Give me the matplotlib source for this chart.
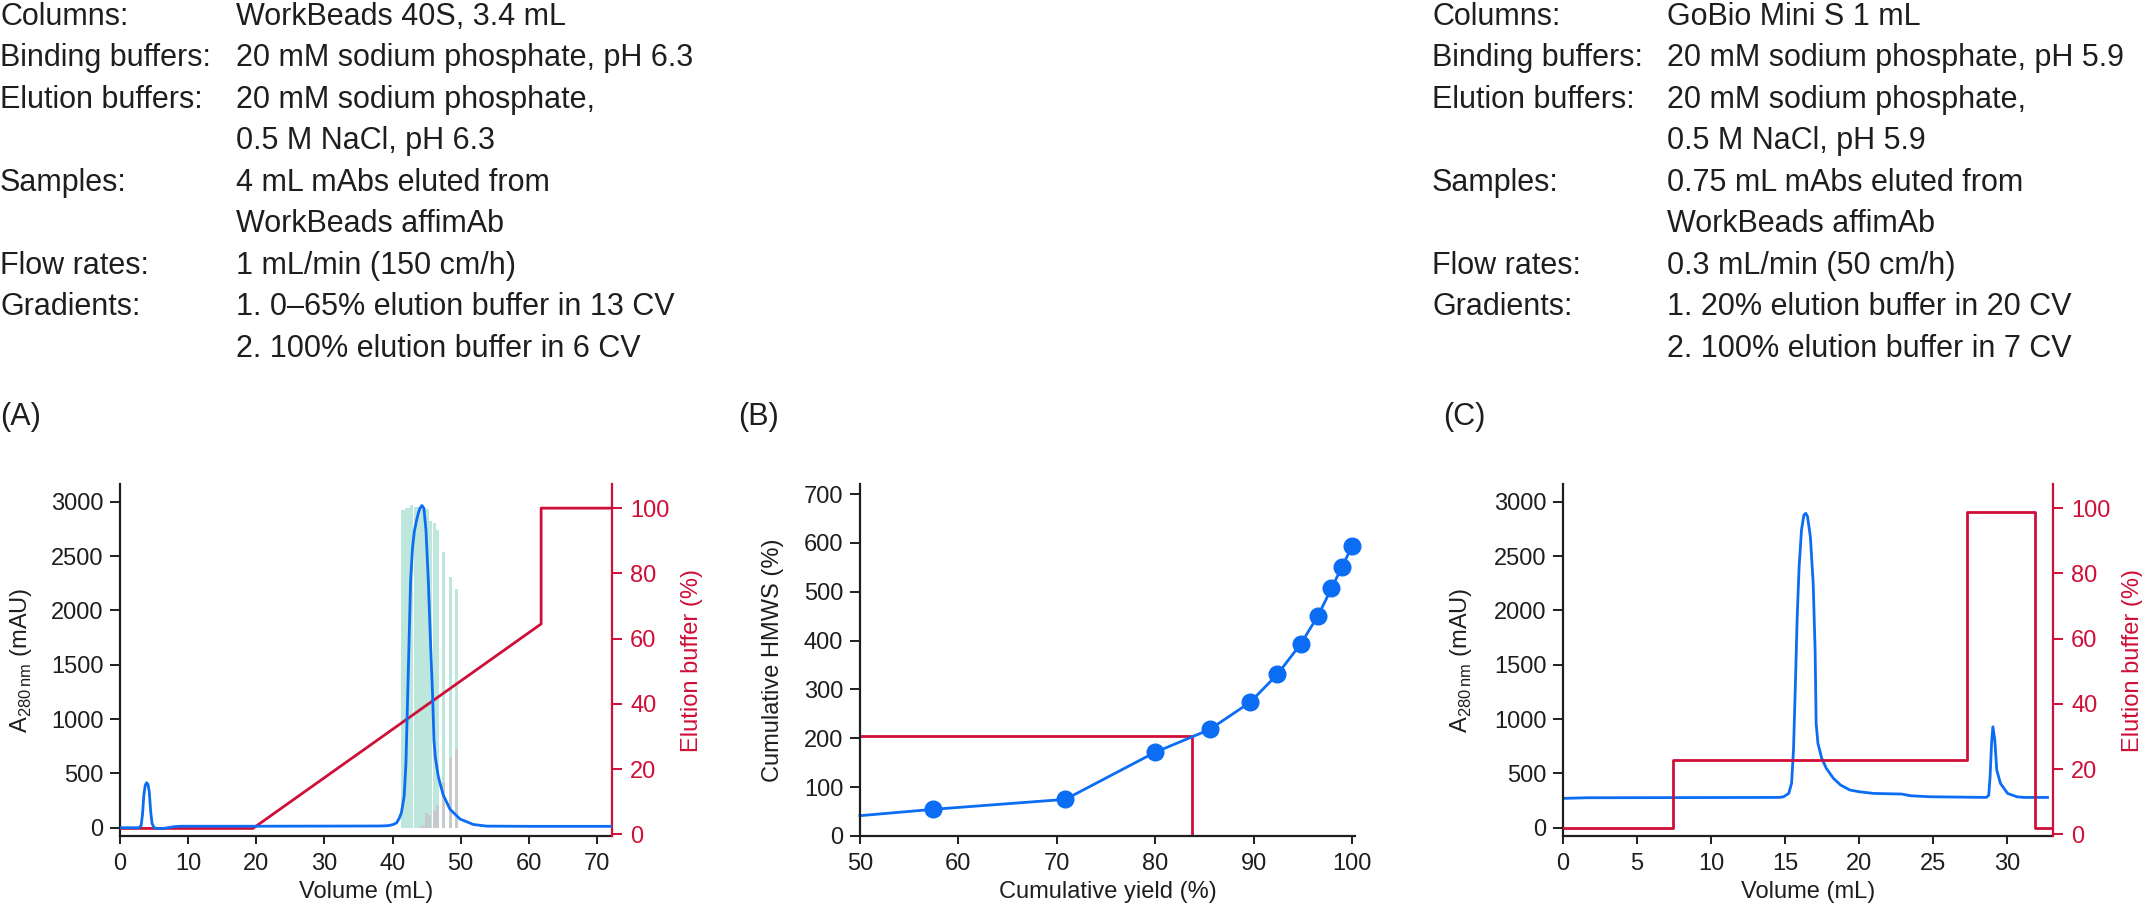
import matplotlib
matplotlib.use('Agg')
import matplotlib.pyplot as plt

plt.rcParams['font.family'] = ['Liberation Sans', 'DejaVu Sans']
plt.rcParams['mathtext.fontset'] = 'custom'
plt.rcParams['mathtext.rm'] = 'Liberation Sans'

W, H = 2142, 906
BLUE = '#0b6cf4'
RED = '#cf0f38'
GREEN = '#bde6dc'
GREY = '#c6cacd'
INK = '#1e1e1e'

# ---- method text -------------------------------------------------------
row_labels = ['Columns:', 'Binding buffers:', 'Elution buffers:', '', 'Samples:', '',
              'Flow rates:', 'Gradients:', '']
values_a = ['WorkBeads 40S, 3.4 mL', '20 mM sodium phosphate, pH 6.3',
            '20 mM sodium phosphate,', '0.5 M NaCl, pH 6.3', '4 mL mAbs eluted from',
            'WorkBeads affimAb', '1 mL/min (150 cm/h)', '1. 0–65% elution buffer in 13 CV',
            '2. 100% elution buffer in 6 CV']
values_c = ['GoBio Mini S 1 mL', '20 mM sodium phosphate, pH 5.9',
            '20 mM sodium phosphate,', '0.5 M NaCl, pH 5.9', '0.75 mL mAbs eluted from',
            'WorkBeads affimAb', '0.3 mL/min (50 cm/h)', '1. 20% elution buffer in 20 CV',
            '2. 100% elution buffer in 7 CV']

# ---- (A) WorkBeads 40S chromatogram -------------------------------------
vol_a = [0, 2.8, 3.1, 3.3, 3.5, 3.7, 3.9, 4.1, 4.3, 4.5, 4.7, 5.0, 5.5, 6.5, 8.0, 9.0,
         20, 38, 39.0, 39.6, 40.1, 40.6, 41.0, 41.3, 41.7, 41.96, 42.15, 42.4, 42.65,
         42.94, 43.2, 43.53, 43.8, 44.01, 44.31, 44.6, 44.9, 45.24, 45.59, 45.88, 46.07,
         46.27, 46.71, 47.44, 48.43, 49.9, 51.85, 53.8, 60, 72.2]
abs_a = [0, 0, 20, 120, 300, 390, 414, 400, 330, 150, 40, 0, -8, -5, 10, 14,
         14, 16, 18, 22, 30, 45, 90, 140, 290, 592, 1053, 1666, 2279,
         2586, 2730, 2832, 2900, 2939, 2965, 2939, 2740, 2279, 1666, 1205, 807,
         650, 470, 300, 170, 80, 30, 15, 13, 13]
grad_vol_a = [0, 19.5, 61.8, 61.8, 72.2]
grad_pct_a = [1.8, 1.8, 64.5, 100, 100]

# collected fractions (total protein) and HMWS content per fraction
frac_start = [41.17, 41.76, 42.54, 43.13, 44.26, 45.34, 45.93, 46.37, 47.25, 48.28, 49.16]
frac_end = [41.76, 42.54, 43.03, 44.26, 45.34, 45.83, 46.37, 46.81, 47.69, 48.67, 49.55]
frac_total = [2923, 2945, 2970, 2953, 2932, 2822, 2800, 2739, 2539, 2309, 2201]
hmws_start = [44.0, 44.75, 45.2, 45.93, 46.37, 47.25, 48.28, 49.16]
hmws_end = [44.75, 45.2, 45.63, 46.37, 46.81, 47.69, 48.67, 49.55]
hmws_frac = [20, 132, 115, 163, 209, 420, 644, 724]

# ---- (B) cumulative HMWS vs yield -------------------------------------
cum_yield = [50, 57.44, 70.87, 79.95, 85.53, 89.66, 92.42, 94.78, 96.55, 97.91, 98.96, 100.0]
cum_hmws = [41.6, 54.6, 75, 171, 218, 274, 331, 393, 451, 507, 550, 593]
yield_cut = 83.7
hmws_cut = 204.7

# ---- (C) GoBio Mini S chromatogram ------------------------------------
vol_c = [0, 1.6, 14.6, 14.9, 15.25, 15.44, 15.57, 15.7, 15.82, 15.95, 16.11, 16.27, 16.4,
         16.52, 16.71, 16.9, 17.03, 17.1, 17.22, 17.48, 17.79, 18.27, 18.75, 19.38, 20.02,
         20.97, 22.88, 23.5, 24.79, 28.6, 28.76, 28.85, 28.95, 29.04, 29.17, 29.3, 29.55,
         30.03, 30.66, 31.14, 32.73]
abs_c = [270, 276, 279, 285, 316, 408, 715, 1328, 1942, 2402, 2739, 2877, 2893,
         2862, 2678, 2248, 1635, 960, 776, 638, 546, 454, 393, 347, 331,
         316, 310, 294, 285, 279, 300, 469, 776, 929, 807, 531, 408,
         316, 285, 279, 279]
grad_vol_c = [0, 7.45, 7.45, 27.32, 27.32, 31.87, 31.87, 33.1]
grad_pct_c = [2, 2, 22.9, 22.9, 98.8, 98.8, 2, 2]


def box(left, right, top, bottom):
    return [left / W, 1 - bottom / H, (right - left) / W, (bottom - top) / H]


def style(ax):
    for s in ['top', 'right']:
        ax.spines[s].set_visible(False)
    for s in ['left', 'bottom']:
        ax.spines[s].set_linewidth(1.6)
        ax.spines[s].set_color(INK)
    ax.tick_params(axis='y', length=7, width=1.4, pad=5, labelsize=17, colors=INK)
    ax.tick_params(axis='x', length=5.5, width=1.4, pad=7, labelsize=17, colors=INK)


def red_axis(ax):
    ax2 = ax.twinx()
    ax2.set_ylim(-0.52, 107.4)
    ax2.set_yticks(range(0, 101, 20))
    for s in ['top', 'left', 'bottom']:
        ax2.spines[s].set_visible(False)
    ax2.spines['right'].set_color(RED)
    ax2.spines['right'].set_linewidth(1.6)
    ax2.tick_params(axis='y', length=7, width=1.4, pad=6, labelsize=17, colors=RED)
    ax2.set_ylabel('Elution buffer (%)', fontsize=17, color=RED, labelpad=8)
    return ax2


fig = plt.figure(figsize=(W / 100, H / 100), dpi=100)

# method text
for i, lab in enumerate(row_labels):
    y = 1 - (25 + i * 41.45) / H
    fig.text(0 / W, y, lab, fontsize=22, color=INK, va='baseline')
    fig.text(236 / W, y, values_a[i], fontsize=22, color=INK, va='baseline')
    fig.text(1432 / W, y, lab, fontsize=22, color=INK, va='baseline')
    fig.text(1667 / W, y, values_c[i], fontsize=22, color=INK, va='baseline')

for x, lab in [(0, '(A)'), (738, '(B)'), (1443, '(C)')]:
    fig.text(x / W, 1 - 425 / H, lab, fontsize=22, color=INK, va='baseline')

ylab = r'A$_{\mathregular{280\,nm}}$ (mAU)'

# ---- panel A
axA = fig.add_axes(box(120, 612, 484, 836))
style(axA)
axA.bar(frac_start, frac_total, width=[e - s for s, e in zip(frac_start, frac_end)],
        align='edge', color=GREEN, linewidth=0)
axA.bar(hmws_start, hmws_frac, width=[e - s for s, e in zip(hmws_start, hmws_end)],
        align='edge', color=GREY, linewidth=0)
axA.set_xlim(0, 72.2)
axA.set_ylim(-76, 3163)
axA.set_xticks(range(0, 71, 10))
axA.set_yticks(range(0, 3001, 500))
axA.set_xlabel('Volume (mL)', fontsize=17, color=INK, labelpad=4)
axA.set_ylabel(ylab, fontsize=17, color=INK, labelpad=12)

axA2 = red_axis(axA)
axA2.plot(grad_vol_a, grad_pct_a, color=RED, lw=2.0)

axA3 = axA.twinx()
axA3.plot(vol_a, abs_a, color=BLUE, lw=2.0)
axA3.set_ylim(axA.get_ylim())
axA3.axis('off')

# ---- panel B
axB = fig.add_axes(box(860, 1355, 484, 836))
style(axB)
axB.plot([cum_yield[0], yield_cut, yield_cut], [hmws_cut, hmws_cut, 0], color=RED, lw=2.0)
axB.plot(cum_yield, cum_hmws, color=BLUE, lw=2.0, marker='o', markersize=12,
         markevery=list(range(1, len(cum_yield))), clip_on=False)
axB.set_xlim(50, 100.3)
axB.set_ylim(0, 720.5)
axB.set_xticks(range(50, 101, 10))
axB.set_yticks(range(0, 701, 100))
axB.set_xlabel('Cumulative yield (%)', fontsize=17, color=INK, labelpad=4)
axB.set_ylabel('Cumulative HMWS (%)', fontsize=17, color=INK, labelpad=14)

# ---- panel C
axC = fig.add_axes(box(1563, 2053, 484, 836))
style(axC)
axC.plot(vol_c, abs_c, color=BLUE, lw=2.0)
axC.set_xlim(0, 33.1)
axC.set_ylim(-76, 3163)
axC.set_xticks(range(0, 31, 5))
axC.set_yticks(range(0, 3001, 500))
axC.set_xlabel('Volume (mL)', fontsize=17, color=INK, labelpad=4)
axC.set_ylabel(ylab, fontsize=17, color=INK, labelpad=14)

axC2 = red_axis(axC)
axC2.plot(grad_vol_c, grad_pct_c, color=RED, lw=2.0)

fig.savefig('out.png', dpi=100)
